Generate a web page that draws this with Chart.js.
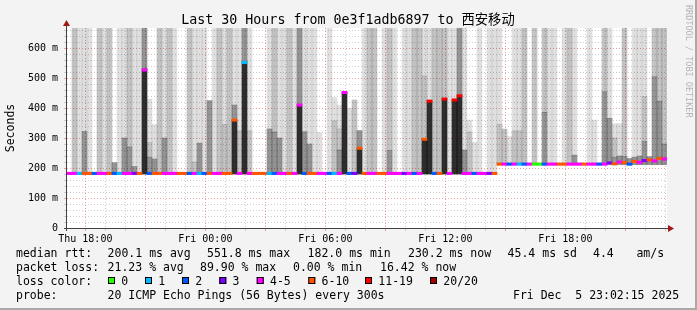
<!DOCTYPE html>
<html>
<head>
<meta charset="utf-8">
<script src="https://cdn.jsdelivr.net/npm/chart.js@4.4.1/dist/chart.umd.min.js"></script>
<style>
  html, body { margin: 0; padding: 0; background: #f3f3f3; }
</style>
</head>
<body>
<canvas id="smoke" width="697" height="310"></canvas>
<script>
// 15 minute columns, Thu 17:05 -> Fri 23:05
const startHour = 17 + 5 / 60;
const stepHours = 0.25;

// median rtt per column (ms)
const medianRtt = [
  182,182,182,182,182,182,182,182,182,182, 182,182,182,182,182,527,182,182,182,182,
  182,182,182,182,182,182,182,182,182,182, 182,182,182,360,182,552,182,182,182,182,
  182,182,182,182,182,182,410,182,182,182, 182,182,182,182,182,452,182,182,266,182,
  182,182,182,182,182,182,182,182,182,182, 182,296,423,182,182,430,182,427,441,182,
  182,182,182,182,182,182,213,213,213,213, 213,213,213,213,213,213,213,213,213,213,
  213,213,213,213,213,213,213,213,217,214, 220,218,213,222,219,225,227,224,232,230
];
// lost pings out of 20 per column
const lossCount = [
  4,4,1,6,6,2,4,4,6,2, 1,4,4,3,6,4,2,6,6,4,
  4,4,6,6,2,4,1,2,6,4, 4,6,6,6,4,1,4,6,6,6,
  1,2,4,4,6,4,4,2,6,6, 4,4,2,1,4,4,2,3,6,6,
  4,4,6,6,4,4,4,3,4,2, 4,6,11,2,6,11,4,11,11,4,
  4,2,4,4,3,6,6,4,2,4, 1,2,4,0,0,2,4,4,6,6,
  4,4,4,6,4,4,2,4,3,6, 4,6,2,6,4,3,6,4,6,4
];
// fastest ping per column (ms)
const minRtt = [
  180,180,180,180,180,180,180,180,180,180, 180,180,180,180,180,180,180,180,180,180,
  180,180,180,180,180,180,180,180,180,180, 180,180,180,180,180,180,180,180,180,180,
  180,180,180,180,180,180,180,180,180,180, 180,180,180,180,180,180,180,180,180,180,
  180,180,180,180,180,180,180,180,180,180, 180,180,180,180,180,180,180,180,180,180,
  180,180,180,180,180,180,211,211,211,211, 211,211,211,211,211,211,211,211,211,211,
  211,211,211,211,211,211,211,211,211,211, 211,211,211,211,211,211,211,211,211,211
];
// smoke layers: top of each band (ms), 0 = no band
const blackTop = [
  0,0,0,0,0,0,0,0,0,0, 0,0,0,0,0,530,0,0,0,0,
  0,0,0,0,0,0,0,0,0,0, 0,0,0,360,0,554,0,0,0,0,
  0,0,0,0,0,0,410,0,0,0, 0,0,0,0,0,454,0,0,266,0,
  0,0,0,0,0,0,0,0,0,0, 0,296,423,0,0,430,0,427,441,0,
  0,0,0,0,0,0,0,0,0,0, 0,0,0,0,0,0,0,0,0,0,
  0,0,0,0,0,0,0,0,0,0, 0,0,0,0,0,0,0,0,0,0
];
const darkTop = [
  0,0,0,322,0,0,0,0,0,218, 0,300,270,205,0,670,235,230,0,300,
  0,0,0,0,0,0,283,0,425,0, 0,0,0,410,0,670,0,0,0,0,
  330,320,300,0,0,0,670,321,280,0, 0,0,0,0,260,0,0,0,325,0,
  0,0,0,0,258,0,0,0,0,0, 0,0,0,0,0,0,0,0,670,260,
  0,0,0,0,0,0,0,0,0,0, 0,0,0,0,0,386,0,0,0,0,
  0,243,0,0,0,0,0,454,366,235, 240,238,232,236,240,288,238,504,423,280
];
const midTop = [
  0,670,0,0,0,0,670,0,670,0, 0,0,670,0,0,670,285,0,670,0,
  670,0,0,0,670,220,0,0,0,0, 670,345,670,0,324,670,324,0,0,0,
  0,670,0,0,670,0,670,0,0,0, 0,0,0,357,330,0,0,427,0,0,
  670,670,0,0,670,0,0,0,0,670, 670,507,0,670,670,670,0,0,670,0,
  320,0,0,0,0,0,346,330,0,324, 324,670,0,670,0,670,0,0,0,0,
  670,0,0,0,0,0,0,670,0,300, 0,670,0,0,0,438,0,670,670,670
];
const lightTop = [
  0,0,670,670,670,0,0,670,0,0, 670,670,0,670,670,0,430,345,345,670,
  0,670,0,0,0,670,670,670,0,670, 0,670,0,670,670,0,670,0,0,0,
  670,0,670,670,0,670,0,670,670,670, 318,0,670,435,410,410,400,0,0,670,
  0,0,0,670,0,670,0,670,670,0, 0,670,670,0,0,0,670,670,0,670,
  360,286,670,0,670,670,670,254,305,670, 670,0,0,0,0,0,670,670,0,670,
  0,670,0,0,670,360,0,0,670,348, 348,0,0,670,670,670,0,0,0,0
];

const lossLabels = ['0', '1', '2', '3', '4-5', '6-10', '11-19', '20/20'];
const lossColors = ['#26ff00', '#00b8ff', '#0059ff', '#7e00ff', '#ff00ff', '#ff5500', '#ff0000', '#a10000'];
const rttStats = ['200.1 ms avg', '551.8 ms max', '182.0 ms min', '230.2 ms now', '45.4 ms sd', '4.4', 'am/s'];
const lossStats = ['21.23 % avg', '89.90 % max', '0.00 % min', '16.42 % now'];

function lossColor(n) {
  if (n <= 3) return lossColors[n];
  if (n <= 5) return lossColors[4];
  if (n <= 10) return lossColors[5];
  if (n <= 19) return lossColors[6];
  return lossColors[7];
}

const times = medianRtt.map((_, i) => startHour + stepHours * (i + 0.5));
// one grid line per full hour inside the window
const gridHours = Array.from({ length: 30 }, (_, k) => 18 + k);

// stack the smoke bands so they do not overlap (they are translucent)
const bands = [blackTop, darkTop, midTop, lightTop];
const bandData = bands.map(() => []);
times.forEach((t, i) => {
  let floor = minRtt[i];
  bands.forEach((tops, k) => {
    if (tops[i] > floor) {
      bandData[k].push({ x: t, y: [floor, tops[i]] });
      floor = tops[i];
    }
  });
});
const bandColors = ['rgba(0,0,0,0.82)', 'rgba(0,0,0,0.42)', 'rgba(0,0,0,0.24)', 'rgba(0,0,0,0.125)'];

const mono = '"DejaVu Sans Mono", monospace';
const majorGrid = '#eaa0a0';
const minorGrid = '#cdcdcd';

const frame = {
  id: 'frame',
  beforeDraw(chart) {
    const { ctx, chartArea: a } = chart;
    ctx.save();
    ctx.fillStyle = '#f3f3f3';
    ctx.fillRect(0, 0, chart.width, chart.height);
    ctx.fillStyle = '#ffffff';
    ctx.fillRect(a.left, a.top, a.right - a.left, a.bottom - a.top);
    ctx.restore();
  },
  afterDraw(chart) {
    const { ctx, chartArea: a } = chart;
    ctx.save();
    // axes
    ctx.strokeStyle = '#404040';
    ctx.lineWidth = 1;
    ctx.beginPath();
    ctx.moveTo(a.left - 3, a.bottom + 0.5);
    ctx.lineTo(a.right + 2, a.bottom + 0.5);
    ctx.moveTo(a.left - 0.5, a.bottom + 3);
    ctx.lineTo(a.left - 0.5, a.top - 3);
    ctx.stroke();
    ctx.fillStyle = '#a01818';
    ctx.beginPath();
    ctx.moveTo(a.right + 1, a.bottom - 3);
    ctx.lineTo(a.right + 7, a.bottom + 0.5);
    ctx.lineTo(a.right + 1, a.bottom + 4);
    ctx.fill();
    ctx.beginPath();
    ctx.moveTo(a.left - 4, a.top - 2);
    ctx.lineTo(a.left - 0.5, a.top - 8);
    ctx.lineTo(a.left + 3, a.top - 2);
    ctx.fill();

    // title
    ctx.fillStyle = '#000';
    ctx.textBaseline = 'middle';
    ctx.textAlign = 'center';
    ctx.font = '13.3px "DejaVu Sans Mono", "Noto Sans CJK SC", monospace';
    ctx.fillText('Last 30 Hours from 0e3f1adb6897 to 西安移动', 348, 21);

    // y title
    ctx.save();
    ctx.translate(11, 128);
    ctx.rotate(-Math.PI / 2);
    ctx.font = '11.5px ' + mono;
    ctx.fillText('Seconds', 0, 0);
    ctx.restore();

    // watermark
    ctx.save();
    ctx.translate(688, 5);
    ctx.rotate(Math.PI / 2);
    ctx.textAlign = 'left';
    ctx.fillStyle = '#b4b4b4';
    ctx.font = '8.5px ' + mono;
    ctx.fillText('RRDTOOL / TOBI OETIKER', 0, 0);
    ctx.restore();

    // legend
    ctx.textAlign = 'left';
    ctx.font = '11.5px ' + mono;
    ctx.fillText('median rtt:', 16, 254.5);
    [107.6, 207, 307.6, 408, 507.6, 593, 636.4].forEach((x, k) => ctx.fillText(rttStats[k], x, 254.5));
    ctx.fillText('packet loss:', 16, 268.5);
    [107.6, 200, 293, 380].forEach((x, k) => ctx.fillText(lossStats[k], x, 268.5));
    ctx.fillText('loss color:', 16, 282.5);
    [108, 145, 182, 219.3, 256.7, 308.3, 365, 430].forEach((x, k) => {
      ctx.fillStyle = lossColors[k];
      ctx.fillRect(x, 277, 7, 7);
      ctx.strokeStyle = '#000';
      ctx.strokeRect(x + 0.5, 277.5, 6, 6);
      ctx.fillStyle = '#000';
      ctx.fillText(lossLabels[k], x + 13.3, 282.5);
    });
    ctx.fillText('probe:', 16, 296.5);
    ctx.fillText('20 ICMP Echo Pings (56 Bytes) every 300s', 107.6, 296.5);
    ctx.fillText('Fri Dec  5 23:02:15 2025', 513, 296.5);

    // outer frame
    ctx.fillStyle = '#a9a9a9';
    ctx.fillRect(chart.width - 2, 0, 2, chart.height);
    ctx.fillRect(0, chart.height - 2, chart.width, 2);
    ctx.restore();
  }
};

const datasets = [{
  type: 'bar',
  label: 'median',
  data: times.map((t, i) => ({ x: t, y: [medianRtt[i] - 4, medianRtt[i] + 4] })),
  backgroundColor: lossCount.map(lossColor),
  order: 0
}].concat(bandData.map((d, k) => ({
  type: 'bar',
  label: 'smoke' + k,
  data: d,
  backgroundColor: bandColors[k],
  order: k + 1
})));

new Chart(document.getElementById('smoke'), {
  type: 'bar',
  data: { datasets },
  plugins: [frame],
  options: {
    responsive: false,
    animation: false,
    devicePixelRatio: 1,
    layout: { padding: { left: 0, top: 28, right: 30, bottom: 0 } },
    datasets: {
      bar: { grouped: false, barPercentage: 1, categoryPercentage: 1, borderWidth: 0 }
    },
    plugins: { legend: { display: false }, tooltip: { enabled: false }, title: { display: false } },
    scales: {
      x: {
        type: 'linear',
        offset: false,
        min: startHour,
        max: startHour + 30,
        afterBuildTicks: s => { s.ticks = gridHours.map(v => ({ value: v })); },
        grid: {
          offset: false,
          color: c => (c.tick && c.tick.value % 3 === 0) ? majorGrid : minorGrid,
          tickLength: 3
        },
        border: { display: false, dash: [1, 2] },
        ticks: {
          autoSkip: false,
          maxRotation: 0,
          padding: 2,
          color: '#000',
          font: { family: mono, size: 10 },
          callback: v => {
            if (v % 6 !== 0) return '';
            const day = v < 24 ? 'Thu' : 'Fri';
            const h = String(v % 24).padStart(2, '0');
            return day + ' ' + h + ':00';
          }
        },
        afterFit: s => { s.height = 82; }
      },
      y: {
        min: 0,
        max: 667,
        grid: {
          color: c => (c.tick && c.tick.value % 100 === 0) ? majorGrid : minorGrid,
          tickLength: 3
        },
        border: { display: false, dash: [1, 2] },
        ticks: {
          stepSize: 20,
          autoSkip: false,
          includeBounds: false,
          padding: 6,
          color: '#000',
          font: { family: mono, size: 10 },
          callback: v => v % 100 === 0 ? (v === 0 ? '0' : v + ' m') : ''
        },
        afterFit: s => { s.width = 67; }
      }
    }
  }
});
</script>
</body>
</html>
